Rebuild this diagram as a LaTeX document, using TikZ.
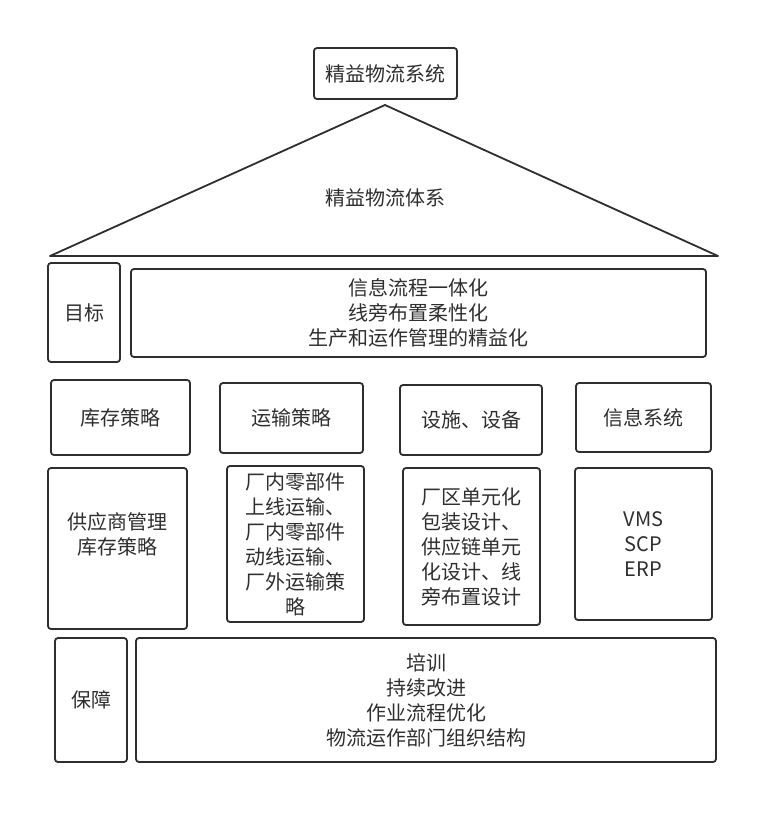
\documentclass[tikz,border=0pt]{standalone}
\usepackage{fontspec}
\usepackage{xcolor}
\usepackage{tikz}
\newfontfamily\cjk{Noto Sans CJK SC}
\definecolor{inkgray}{HTML}{2E2E2E}

\begin{document}
\begin{tikzpicture}[
    x=1pt, y=-1pt,
    box/.style={draw=inkgray, line width=1.8pt, rounded corners=3pt,
                align=center, inner sep=0pt, text=inkgray,
                font={\cjk\fontsize{20}{25}\selectfont}},
    txt/.style={align=center, inner sep=0pt, text=inkgray,
                font={\cjk\fontsize{20}{25}\selectfont}},
]
    \useasboundingbox (0,0) rectangle (781,823);

    % roof
    \node[box, minimum width=143pt, minimum height=51pt] (sys) at (385.5,73.5) {精益物流系统};
    \coordinate (apex) at (385,105);
    \coordinate (eaveL) at (50,256);
    \coordinate (eaveR) at (718,256);
    \draw[inkgray, line width=1.8pt, line join=round] (eaveL) -- (apex) -- (eaveR) -- cycle;
    \node[txt] (body) at (385,198) {精益物流体系};

    % goals
    \node[box, minimum width=72pt, minimum height=99pt] (goal) at (84,312.5) {目标};
    \node[box, minimum width=575pt, minimum height=88pt] (goaltxt) at (418.5,313)
        {信息流程一体化\\线旁布置柔性化\\生产和运作管理的精益化};

    % pillars
    \node[box, minimum width=139pt, minimum height=75pt] (inv) at (120.5,417.5) {库存策略};
    \node[box, minimum width=143pt, minimum height=70pt] (trans) at (291.5,418) {运输策略};
    \node[box, minimum width=142pt, minimum height=70pt] (equip) at (471,420) {设施、设备};
    \node[box, minimum width=135pt, minimum height=69pt] (info) at (643.5,417.5) {信息系统};

    \node[box, minimum width=139pt, minimum height=161pt] (vmi) at (117.5,548.5) {};
    \node[txt] (vmitxt) at ([yshift=14pt]vmi.center) {供应商管理\\库存策略};
    \node[box, minimum width=137pt, minimum height=156pt] (transd) at (295.5,544)
        {厂内零部件\\上线运输、\\厂内零部件\\动线运输、\\厂外运输策\\略};
    \node[box, minimum width=137pt, minimum height=157pt] (equipd) at (471.5,546.5)
        {厂区单元化\\包装设计、\\供应链单元\\化设计、线\\旁布置设计};
    \node[box, minimum width=137pt, minimum height=152pt] (infod) at (643.5,544)
        {VMS\\SCP\\ERP};

    % foundation
    \node[box, minimum width=72pt, minimum height=124pt] (guard) at (91,700) {保障};
    \node[box, minimum width=580pt, minimum height=124pt] (guardtxt) at (426,700)
        {培训\\持续改进\\作业流程优化\\物流运作部门组织结构};
\end{tikzpicture}
\end{document}
